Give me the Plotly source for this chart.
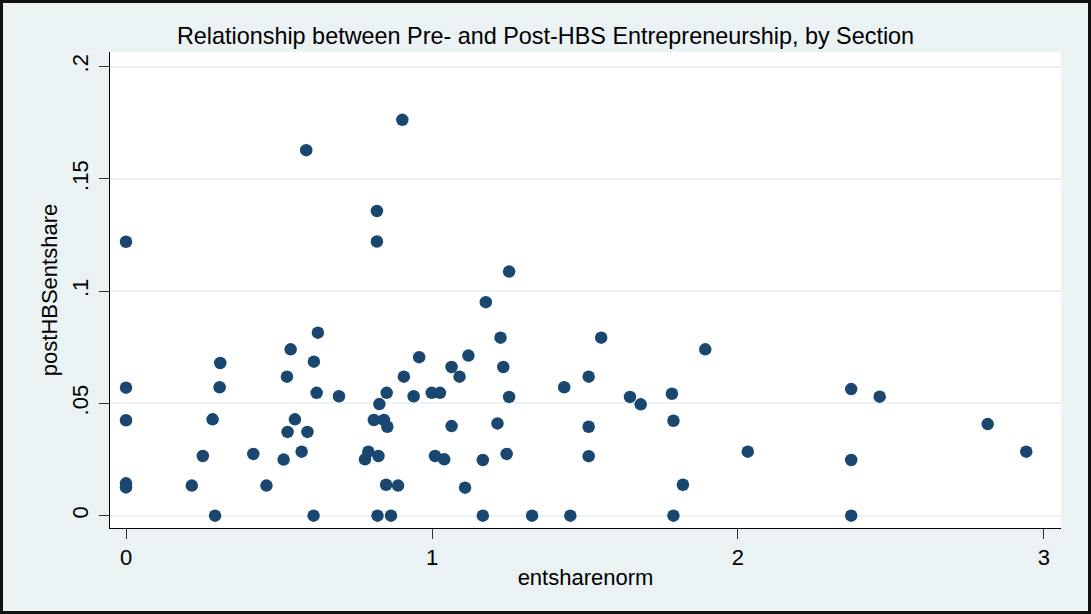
import plotly.graph_objects as go

entsharenorm = [0, 0, 0, 0, 0, 0.215, 0.251, 0.283, 0.291, 0.308, 0.306, 0.416, 0.459,
                0.515, 0.526, 0.528, 0.538, 0.552, 0.574, 0.589, 0.593, 0.613, 0.614,
                0.623, 0.627, 0.696, 0.781, 0.792, 0.825, 0.81, 0.843, 0.854, 0.828,
                0.852, 0.822, 0.866, 0.85, 0.889, 0.82, 0.82, 0.903, 0.908, 0.958, 0.94,
                0.999, 1.026, 1.01, 1.04, 1.064, 1.09, 1.064, 1.108, 1.119, 1.166, 1.166,
                1.176, 1.214, 1.224, 1.233, 1.244, 1.252, 1.252, 1.327, 1.432, 1.452,
                1.512, 1.512, 1.512, 1.553, 1.647, 1.682, 1.784, 1.789, 1.789, 1.82,
                1.893, 2.032, 2.37, 2.37, 2.37, 2.463, 2.816, 2.942]
postHBSentshare = [0.122, 0.057, 0.0425, 0.0144, 0.0126, 0.0134, 0.0266, 0.0429, 0, 0.068,
                   0.0572, 0.0275, 0.0134, 0.025, 0.0619, 0.0373, 0.0741, 0.0429, 0.0285,
                   0.1628, 0.0373, 0, 0.0686, 0.0547, 0.0815, 0.0532, 0.0251, 0.0285,
                   0.0266, 0.0426, 0.0426, 0.0396, 0.0497, 0.0547, 0, 0, 0.0138, 0.0134,
                   0.1357, 0.1221, 0.1763, 0.0619, 0.0706, 0.0532, 0.0547, 0.0547, 0.0266,
                   0.0251, 0.0662, 0.0619, 0.0399, 0.0125, 0.0713, 0.0248, 0, 0.0951,
                   0.0411, 0.0793, 0.0662, 0.0275, 0.1087, 0.0529, 0, 0.0572, 0, 0.0619,
                   0.0396, 0.0265, 0.0793, 0.0529, 0.0496, 0.0543, 0.0423, 0, 0.0138,
                   0.0741, 0.0285, 0.0564, 0.0248, 0, 0.053, 0.0408, 0.0285]

x_ticks = [0, 1, 2, 3]
x_ticktext = ["0", "1", "2", "3"]
y_ticks = [0, 0.05, 0.1, 0.15, 0.2]
y_ticktext = ["0", ".05", ".1", ".15", ".2"]

W, H = 1091, 614
L, R, T, B = 110, 30, 52, 86
pw, ph = W - L - R, H - T - B

fig = go.Figure()
fig.add_trace(go.Scatter(
    x=entsharenorm, y=postHBSentshare, mode="markers",
    marker=dict(color="#1A476F", size=12.5, line=dict(width=0)),
    showlegend=False,
))

bg = "#EAF2F3"
font = "Liberation Sans, Arial, sans-serif"

fig.update_layout(
    width=W, height=H,
    margin=dict(l=L, r=R, t=T, b=B),
    paper_bgcolor=bg, plot_bgcolor="white",
    font=dict(family=font, color="black", size=22),
    title=dict(text="Relationship between Pre- and Post-HBS Entrepreneurship, by Section",
               x=0.5, xref="container", xanchor="center",
               y=1 - 36 / H, yref="container", yanchor="middle",
               font=dict(size=23.4, family=font, color="black")),
    xaxis=dict(range=[-0.0523, 3.0556], tickvals=x_ticks, ticktext=x_ticktext,
               showgrid=False, zeroline=False, showline=True, linecolor="black",
               linewidth=1, ticks="outside", ticklen=10, tickcolor="#333",
               tickfont=dict(size=22),
               title=dict(text="entsharenorm", font=dict(size=22), standoff=0)),
    yaxis=dict(range=[-0.00548, 0.2065], tickvals=y_ticks, ticktext=y_ticktext,
               showgrid=True, gridcolor=bg, gridwidth=2, zeroline=False,
               showline=True, linecolor="black", linewidth=1,
               ticks="outside", ticklen=10, tickcolor="#333", tickangle=-90,
               ticklabelstandoff=2,
               tickfont=dict(size=22),
               title=dict(text="postHBSentshare", font=dict(size=22), standoff=4)),
    shapes=[dict(type="rect", xref="paper", yref="paper",
                 x0=(1.5 - L) / pw, x1=(W - 1.5 - L) / pw,
                 y0=-(B - 1.5) / ph, y1=1 + (T - 1.5) / ph,
                 line=dict(color="#111", width=3), fillcolor="rgba(0,0,0,0)",
                 layer="above")],
)

fig.write_html("out.html", config={"displayModeBar": False},
               post_script="document.body.style.margin='0px';document.body.style.overflow='hidden';")
